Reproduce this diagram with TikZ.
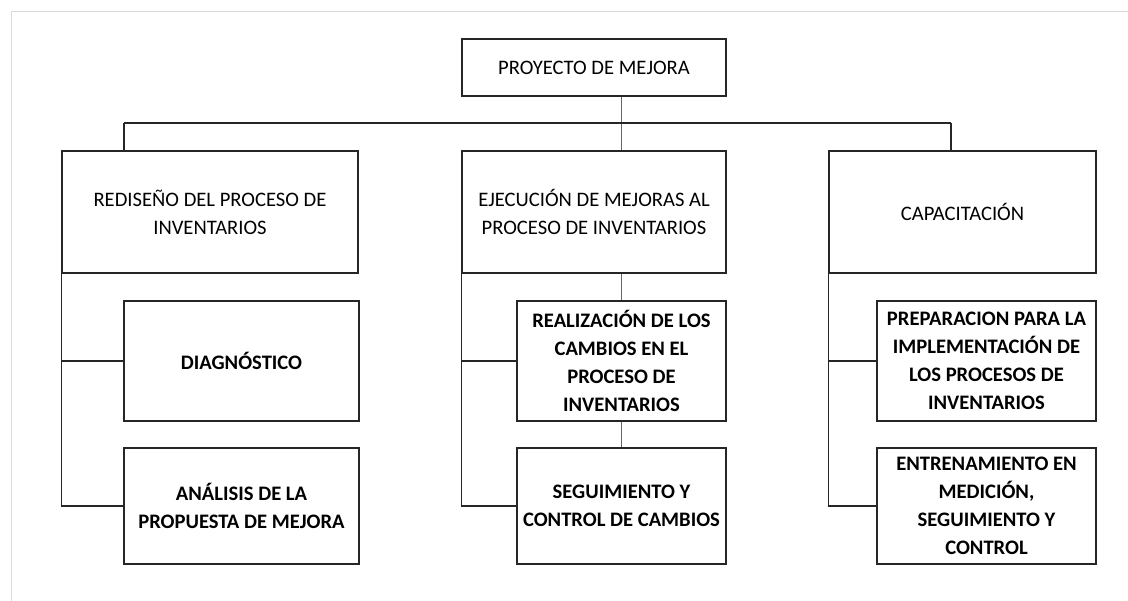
\documentclass[tikz,border=0pt]{standalone}
\usepackage{fontspec}
\setmainfont{Carlito}
\begin{document}
\begin{tikzpicture}[x=1pt,y=-1pt,
  box/.style={draw=black!85, line width=1.3pt, rectangle, inner sep=0pt, align=center,
    font=\fontsize{20.6}{28}\selectfont},
  subbox/.style={box, font=\fontsize{20.6}{28}\selectfont\bfseries},
  conn/.style={draw=black!85, line width=1.1pt},
  thin/.style={draw=black!60, line width=0.9pt},
  frame/.style={draw=black!15, line width=1pt}]
\useasboundingbox (0,0) rectangle (1128,601);
\draw[frame] (11,601) -- (11,12) -- (1128,12);

\node[box, minimum width=264pt, minimum height=57pt] (top) at (594,67.5) {PROYECTO DE MEJORA};
\node[box, minimum width=296pt, minimum height=122pt] (b1) at (210,212) {REDISEÑO DEL PROCESO DE\\INVENTARIOS};
\node[box, minimum width=264pt, minimum height=122pt] (b2) at (594,212) {EJECUCIÓN DE MEJORAS AL\\PROCESO DE INVENTARIOS};
\node[box, minimum width=267pt, minimum height=122pt] (b3) at (962.5,212) {CAPACITACIÓN};

\node[subbox, minimum width=235pt, minimum height=120pt] (s11) at (241.5,361) {DIAGNÓSTICO};
\node[subbox, minimum width=235pt, minimum height=116pt] (s12) at (241.5,506) {ANÁLISIS DE LA\\PROPUESTA DE MEJORA};
\node[subbox, minimum width=209pt, minimum height=120pt] (s21) at (621.5,361) {REALIZACIÓN DE LOS\\CAMBIOS EN EL\\PROCESO DE\\INVENTARIOS};
\node[subbox, minimum width=209pt, minimum height=116pt] (s22) at (621.5,506) {SEGUIMIENTO Y\\CONTROL DE CAMBIOS};
\node[subbox, minimum width=219pt, minimum height=120pt] (s31) at (986.5,361) {PREPARACION PARA LA\\IMPLEMENTACIÓN DE\\LOS PROCESOS DE\\INVENTARIOS};
\node[subbox, minimum width=219pt, minimum height=116pt] (s32) at (986.5,506) {ENTRENAMIENTO EN\\MEDICIÓN,\\SEGUIMIENTO Y\\CONTROL};

\coordinate (busL) at (124,123);
\coordinate (busR) at (951,123);
\coordinate (busM) at (621.5,123);

% top level
\draw[thin] (top.south -| busM) -- (b2.north -| busM);
\draw[conn] (busL) -- (busR);
\draw[conn] (busL) -- (b1.north -| busL);
\draw[conn] (busR) -- (b3.north -| busR);

% left column
\draw[conn] (b1.south west) -- (b1.south west |- s12.west) -- (s12.west);
\draw[conn] (b1.south west |- s11.west) -- (s11.west);

% middle column
\draw[conn] (b2.south west) -- (b2.south west |- s22.west) -- (s22.west);
\draw[conn] (b2.south west |- s21.west) -- (s21.west);
\draw[thin] (b2.south -| s21.north) -- (s21.north);
\draw[thin] (s21.south) -- (s22.north);

% right column
\draw[conn] (b3.south west) -- (b3.south west |- s32.west) -- (s32.west);
\draw[conn] (b3.south west |- s31.west) -- (s31.west);
\end{tikzpicture}
\end{document}
